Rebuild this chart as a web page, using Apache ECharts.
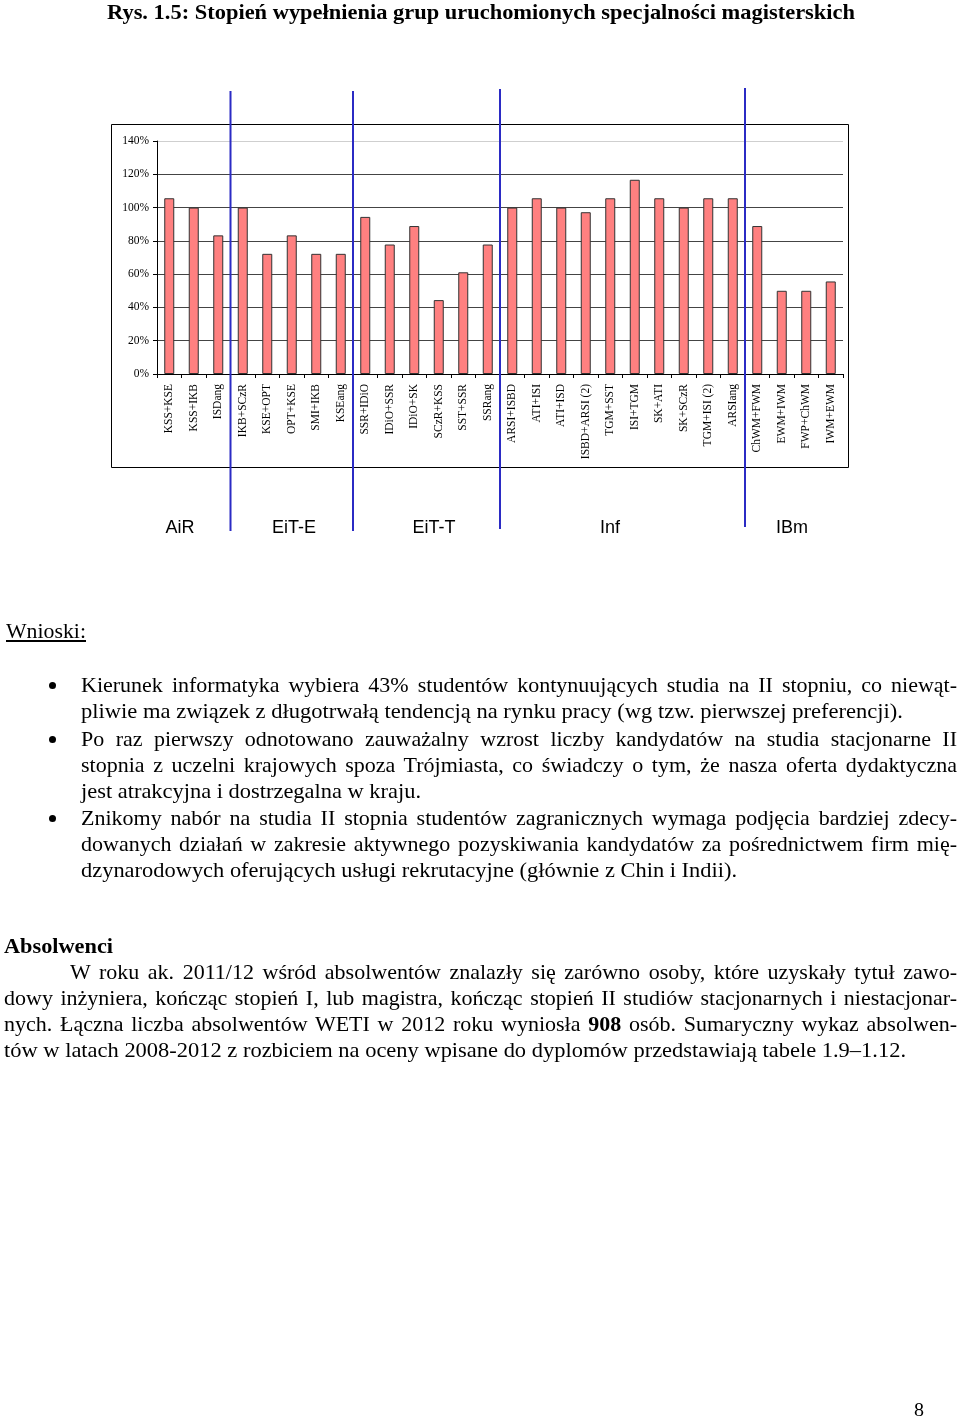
<!DOCTYPE html>
<html><head><meta charset="utf-8">
<script src="https://cdn.jsdelivr.net/npm/echarts@6/dist/echarts.min.js"></script>
<style>
html,body{margin:0;padding:0;background:#fff;}
#page{position:relative;width:960px;height:1417px;overflow:hidden;background:#fff;}
#chart{position:absolute;left:0;top:0;width:960px;height:1417px;}
#text{position:absolute;left:0;top:0;width:960px;height:1417px;pointer-events:none;}
.ln{position:absolute;white-space:nowrap;font-family:"Liberation Serif","Times New Roman",serif;font-size:22px;line-height:26px;color:#000;transform-origin:0 50%;}
</style></head><body>
<div id="page"><div id="chart"></div><div id="text"></div></div>
<script>
// ---- chart data ----
const categories = ['KSS+KSE','KSS+IKB','ISDang','IKB+SCzR','KSE+OPT','OPT+KSE','SMI+IKB','KSEang',
  'SSR+IDiO','IDiO+SSR','IDiO+SK','SCzR+KSS','SST+SSR','SSRang',
  'ARSI+ISBD','ATI+ISI','ATI+ISD','ISBD+ARSI (2)','TGM+SST','ISI+TGM','SK+ATI','SK+SCzR','TGM+ISI (2)','ARSIang',
  'ChWM+FWM','EWM+IWM','FWP+ChWM','IWM+EWM'];
const fillPercent = [105.6,100,83.3,100,72.2,83.3,72.2,72.2,
  94.4,77.8,88.9,44.4,61.1,77.8,
  100,105.6,100,97.2,105.6,116.7,105.6,100,105.6,105.6,
  88.9,50,50,55.6];
const groupNames = ['AiR','EiT-E','EiT-T','Inf','IBm'];
const groupSizes = [3,5,6,10,4];
const yTickValues = [0,20,40,60,80,100,120,140];

// ---- chart ----
const chart = echarts.init(document.getElementById('chart'), null, {renderer:'canvas'});
const serif = '"Liberation Serif","Times New Roman",serif';
const option = {
  animation:false,
  backgroundColor:'#fff',
  grid:{left:157, top:141, width:686, height:233, containLabel:false},
  xAxis:{
    type:'category', data:categories,
    axisLine:{show:true, lineStyle:{color:'#000', width:1}},
    axisTick:{show:true, length:4, lineStyle:{color:'#000'}},
    axisLabel:{rotate:90, margin:10, fontFamily:serif, fontSize:11.5, color:'#000', interval:0},
    splitLine:{show:false}
  },
  yAxis:{
    type:'value', min:yTickValues[0], max:yTickValues[yTickValues.length-1], interval:20,
    axisLine:{show:true, lineStyle:{color:'#000', width:1}},
    axisTick:{show:true, length:4, lineStyle:{color:'#000'}},
    axisLabel:{formatter:'{value}%', margin:8, fontFamily:serif, fontSize:11.5, color:'#000'},
    splitLine:{show:true, lineStyle:{color:['#444','#444','#444','#444','#444','#444','#444','#cfcfcf'], width:1}}
  },
  series:[{
    type:'bar', data:fillPercent, barWidth:10,
    itemStyle:{color:'#FF8080', borderColor:'#333', borderWidth:1},
    emphasis:{disabled:true}
  }]
};
chart.setOption(option);

// group separators (at category boundaries, via the axis scale)
const graphics = [];
graphics.push({type:'rect', shape:{x:111.5, y:124.5, width:737, height:343}, style:{fill:null, stroke:'#000', lineWidth:1}, z:-1});
const lineTops = [91,91,89,88], lineBottoms = [531,531,529,527];
let acc = 0;
for (let g = 0; g < groupSizes.length - 1; g++) {
  acc += groupSizes[g];
  const a = chart.convertToPixel({xAxisIndex:0}, categories[acc-1]);
  const b = chart.convertToPixel({xAxisIndex:0}, categories[acc]);
  const x = (a + b) / 2;
  graphics.push({type:'line', shape:{x1:x, y1:lineTops[g], x2:x, y2:lineBottoms[g]}, style:{stroke:'#2b2bc4', lineWidth:2}, z:100});
}
const groupLabelX = [180, 294, 434, 610, 792];
groupNames.forEach((n,i) => {
  graphics.push({type:'text', x:groupLabelX[i], y:528, style:{text:n, font:'18px "Liberation Sans", Arial, sans-serif', fill:'#000', align:'center', verticalAlign:'middle'}});
});
chart.setOption({graphic:graphics});

// ---- page text ----
const lines = [
  {t:'Rys. 1.5: Stopień wypełnienia grup uruchomionych specjalności magisterskich', x0:107, x1:855, y:12, bold:true, size:21},
  {t:'<u>Wnioski:</u>', x0:6, x1:86, y:631},
  {t:'Kierunek informatyka wybiera 43% studentów kontynuujących studia na II stopniu, co niewąt-', x0:81, x1:957, y:685, j:true},
  {t:'pliwie ma związek z długotrwałą tendencją na rynku pracy (wg tzw. pierwszej preferencji).', x0:81, x1:903, y:711},
  {t:'Po raz pierwszy odnotowano zauważalny wzrost liczby kandydatów na studia stacjonarne II', x0:81, x1:957, y:739, j:true},
  {t:'stopnia z uczelni krajowych spoza Trójmiasta, co świadczy o tym, że nasza oferta dydaktyczna', x0:81, x1:957, y:765, j:true},
  {t:'jest atrakcyjna i dostrzegalna w kraju.', x0:81, x1:421, y:791},
  {t:'Znikomy nabór na studia II stopnia studentów zagranicznych wymaga podjęcia bardziej zdecy-', x0:81, x1:957, y:818, j:true},
  {t:'dowanych działań w zakresie aktywnego pozyskiwania kandydatów za pośrednictwem firm mię-', x0:81, x1:957, y:844, j:true},
  {t:'dzynarodowych oferujących usługi rekrutacyjne (głównie z Chin i Indii).', x0:81, x1:737, y:870},
  {t:'Absolwenci', x0:4, x1:113, y:946, bold:true},
  {t:'W roku ak. 2011/12 wśród absolwentów znalazły się zarówno osoby, które uzyskały tytuł zawo-', x0:70, x1:957, y:972, j:true},
  {t:'dowy inżyniera, kończąc stopień I, lub magistra, kończąc stopień II studiów stacjonarnych i niestacjonar-', x0:4, x1:957, y:998, j:true},
  {t:'nych. Łączna liczba absolwentów WETI w 2012 roku wyniosła <b>908</b> osób. Sumaryczny wykaz absolwen-', x0:4, x1:957, y:1024, j:true},
  {t:'tów w latach 2008-2012 z rozbiciem na oceny wpisane do dyplomów przedstawiają tabele 1.9–1.12.', x0:4, x1:906, y:1050},
  {t:'8', x0:914, x1:924, y:1410, size:19}
];
const bullets = [685, 739, 818];
const host = document.getElementById('text');
lines.forEach(L => {
  const d = document.createElement('div');
  d.className = 'ln';
  d.innerHTML = L.t;
  if (L.bold) d.style.fontWeight = 'bold';
  if (L.size) d.style.fontSize = L.size + 'px';
  d.style.left = L.x0 + 'px';
  d.style.top = (L.y - 13.5) + 'px';
  host.appendChild(d);
  const w = d.getBoundingClientRect().width;
  const target = L.x1 - L.x0;
  if (L.j && w < target) {
    const spaces = (d.textContent.match(/ /g) || []).length;
    if (spaces) d.style.wordSpacing = ((target - w) / spaces) + 'px';
  } else if (w > 0) {
    d.style.transform = 'scaleX(' + (target / w) + ')';
  }
});
bullets.forEach(y => {
  const b = document.createElement('div');
  b.style.cssText = 'position:absolute;left:49px;top:' + (y - 3.5) + 'px;width:7px;height:7px;border-radius:50%;background:#000;';
  host.appendChild(b);
});
</script>
</body></html>
